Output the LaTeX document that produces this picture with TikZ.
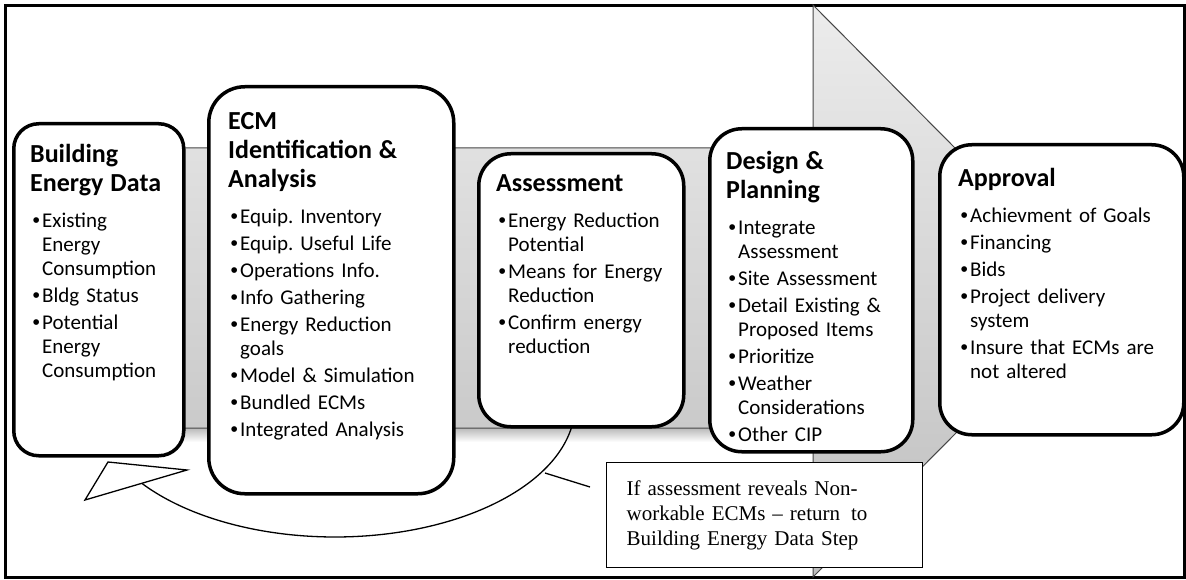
\documentclass[tikz,border=0pt]{standalone}
\usepackage{fontspec}
\setmainfont{Carlito}
\newfontfamily\tnr{Liberation Serif}
\newfontfamily\lsans{Liberation Sans}
\definecolor{arrtop}{RGB}{236,236,236}
\definecolor{arrbot}{RGB}{190,190,190}
\definecolor{arredge}{RGB}{70,70,70}
\frenchspacing
\newcommand{\ttl}[1]{{\noindent\fontsize{26}{29}\selectfont\bfseries\rule{0pt}{20pt}#1\par}\vspace{9pt}}
\newcommand{\bi}[1]{\hangindent=12pt\hangafter=1\noindent\makebox[12pt][l]{\hspace{2.5pt}{\lsans\textbullet}}#1\par}
\begin{document}
\begin{tikzpicture}[x=1pt,y=-1pt,
  stagebox/.style={draw=black, line width=3.5, fill=white, inner sep=0pt, anchor=north west},
  txt/.style={inner sep=0pt, anchor=north west, font=\fontsize{21}{24}\selectfont,
    execute at begin node={\setlength{\parskip}{3pt}\frenchspacing}},
  note/.style={draw=black, line width=1.3, fill=white, anchor=north west,
    font=\tnr\fontsize{21}{25}\selectfont, align=left, inner xsep=20pt, inner ysep=0pt},
  thinline/.style={line width=1.3, line join=miter}]
\useasboundingbox (0,0) rectangle (1186,580);
% frame
\draw[line width=2.5, fill=white] (5.5,5.5) rectangle (1184.5,577.5);
% shadow under the band
\shade[top color=gray!55, bottom color=white] (20,428) rectangle (813,442);
% big arrow
\shadedraw[top color=arrtop, bottom color=arrbot, draw=arredge, line width=1]
  (20,148) -- (813,148) -- (813,5) -- (1097,291) -- (813,577) -- (813,428) -- (20,428) -- cycle;
% return curve
\draw[thinline] plot[domain=9.2:150, samples=80, smooth] ({335+240*cos(\x)},{405+132*sin(\x)});
% stage boxes
\node[stagebox, minimum width=170, minimum height=332, rounded corners=25] (b1) at (12,122) {};
\node[stagebox, minimum width=245, minimum height=407, rounded corners=36] (b2) at (207,85) {};
\node[stagebox, minimum width=205, minimum height=273, rounded corners=32] (b3) at (477,152) {};
\node[stagebox, minimum width=203, minimum height=323, rounded corners=32] (b4) at (708,127) {};
\node[stagebox, minimum width=244, minimum height=290, rounded corners=32] (b5) at (938,143) {};
% texts
\node[txt, text width=148] (t1) at (30,142) {\ttl{Building\newline Energy Data}%
  \bi{Existing\newline Energy\newline Consumption}\bi{Bldg Status}\bi{Potential\newline Energy\newline Consumption}};
\node[txt, text width=217] (t2) at (228,109) {\ttl{ECM\newline Identification \&\newline Analysis}%
  \bi{Equip. Inventory}\bi{Equip. Useful Life}\bi{Operations Info.}\bi{Info Gathering}%
  \bi{Energy Reduction\newline goals}\bi{Model \& Simulation}\bi{Bundled ECMs}\bi{Integrated Analysis}};
\node[txt, text width=180] (t3) at (496,171) {\ttl{Assessment}%
  \bi{Energy Reduction\newline Potential}\bi{Means for Energy\newline Reduction}\bi{Confirm energy\newline reduction}};
\node[txt, text width=179] (t4) at (726,149) {\ttl{Design \&\newline Planning}%
  \bi{Integrate\newline Assessment}\bi{Site Assessment}\bi{Detail Existing \&\newline Proposed Items}%
  \bi{Prioritize}\bi{Weather\newline Considerations}\bi{Other CIP}};
\node[txt, text width=218] (t5) at (958,166) {\ttl{Approval}%
  \bi{Achievment of Goals}\bi{Financing}\bi{Bids}\bi{Project delivery\newline system}%
  \bi{Insure that ECMs are\newline not altered}};
% callout
\node[note, minimum width=316, minimum height=105, text width=276] (c) at (606,462)
  {If assessment reveals Non-\\workable ECMs \textendash{} return\hspace{4pt} to\\Building Energy Data Step};
\coordinate (p1) at (545,473);
\coordinate (p2) at (590,487);
\draw[thinline] (p1) -- (p2);
% open arrow head of the return curve
\coordinate (h1) at (108,462);
\coordinate (h2) at (187,470);
\coordinate (h3) at (85,500);
\draw[thinline, fill=white] (h1) -- (h2) -- (h3) -- cycle;
\end{tikzpicture}
\end{document}
